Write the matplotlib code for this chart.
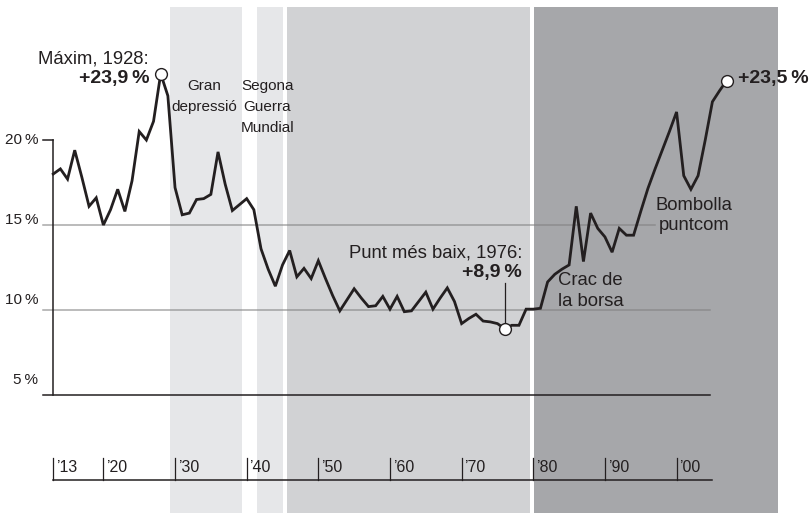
import matplotlib
matplotlib.use("Agg")
import matplotlib.pyplot as plt

# Part de la renda del 1% més ric (%), 1913-2007
years = list(range(1913, 2008))
top_share = [
    18.0, 18.3, 17.7, 19.4, 17.8, 16.1, 16.6, 15.0, 15.9, 17.1,   # 1913-1922
    15.8, 17.6, 20.5, 20.0, 21.1, 23.9, 22.6, 17.2, 15.6, 15.7,   # 1923-1932
    16.5, 16.55, 16.8, 19.3, 17.4, 15.85, 16.2, 16.55, 15.9, 13.6,  # 1933-1942
    12.4, 11.4, 12.65, 13.5, 11.95, 12.45, 11.85, 12.9, 11.85, 10.85,  # 1943-1952
    9.95, 10.6, 11.25, 10.7, 10.2, 10.25, 10.8, 10.05, 10.8, 9.9,  # 1953-1962
    9.95, 10.5, 11.05, 10.05, 10.7, 11.3, 10.5, 9.2, 9.5, 9.75,   # 1963-1972
    9.35, 9.3, 9.2, 8.9, 9.1, 9.1, 10.05, 10.05, 10.1, 11.65,     # 1973-1982
    12.1, 12.4, 12.65, 16.1, 12.85, 15.7, 14.8, 14.3, 13.4, 14.8,  # 1983-1992
    14.4, 14.4, 15.8, 17.15, 18.3, 19.4, 20.5, 21.65, 17.9, 17.1,  # 1993-2002
    17.9, 20.0, 22.25, 22.9, 23.5,                                 # 2003-2007
]

tick_years = [1913, 1920, 1930, 1940, 1950, 1960, 1970, 1980, 1990, 2000]
tick_labels = ["\u201913", "\u201920", "\u201930", "\u201940", "\u201950",
               "\u201960", "\u201970", "\u201980", "\u201990", "\u201900"]
y_levels = [20, 15, 10, 5]
y_labels = ["20\u2009%", "15\u2009%", "10\u2009%", "5\u2009%"]

# períodes ombrejats (inici, final)
era_spans = [(1929.3, 1939.4), (1941.4, 1945.0), (1945.6, 1979.6), (1980.1, 2014.1)]
era_colors = ["#e6e7e9", "#e6e7e9", "#d1d2d4", "#a6a7aa"]

INK = "#231f20"
GRID = (0.5, 0.5, 0.5, 0.68)
SANS = ["Liberation Sans", "DejaVu Sans"]

W, H = 810, 513


def px_x(px):
    # píxel horitzontal -> any
    return 1928 + (px - 160.7) / 7.165


def px_y(py):
    # píxel vertical -> percentatge
    return 20 - (py - 140) / 17.0


fig = plt.figure(figsize=(W / 100, H / 100), dpi=100)
ax = fig.add_axes([0, 0, 1, 1])
ax.set_xlim(px_x(0), px_x(W))
ax.set_ylim(px_y(H), px_y(0))
ax.axis("off")

# franges
for (x0, x1), c in zip(era_spans, era_colors):
    ax.fill_between([x0, x1], px_y(H), px_y(7), color=c, lw=0, zorder=0)

# línies de referència
ax.plot([px_x(43), px_x(710)], [10, 10], color=GRID, lw=1.1, zorder=1)
ax.plot([px_x(43), px_x(655)], [15, 15], color=GRID, lw=1.1, zorder=1)
ax.plot([px_x(43), px_x(710)], [5, 5], color=INK, lw=1.1, zorder=2)
ax.plot([years[0], years[0]], [5, 20], color=INK, lw=1.1, zorder=2)
ax.plot([px_x(43), years[0]], [20, 20], color=INK, lw=1.1, zorder=2)

label_base = [144, 224, 304, 384]
for lev, lab, b in zip(y_levels, y_labels, label_base):
    ax.text(px_x(38), px_y(b), lab, ha="right", va="baseline", fontsize=11,
            family=SANS, color=INK)

# eix temporal inferior
ax.plot([years[0], px_x(712)], [px_y(480), px_y(480)], color=INK, lw=1.1, zorder=2)
for ty, tl in zip(tick_years, tick_labels):
    ax.plot([ty, ty], [px_y(480), px_y(458)], color=INK, lw=0.9, zorder=2)
    ax.text(ty + 0.4, px_y(468), tl, ha="left", va="center", fontsize=11.5,
            family=SANS, color=INK)

# sèrie
ax.plot(years, top_share, color=INK, lw=2.0, solid_joinstyle="miter", zorder=3)

i_max = years.index(1928)
i_min = years.index(1976)
i_end = len(years) - 1
ax.plot([years[i_min], years[i_min]], [top_share[i_min], px_y(283)],
        color=INK, lw=0.9, zorder=3)
for i in (i_max, i_min, i_end):
    ax.plot(years[i], top_share[i], "o", ms=8.5, mfc="white", mec=INK, mew=1.0, zorder=4)

# anotacions
ax.text(px_x(149), px_y(63), "Máxim, 1928:", ha="right", va="baseline",
        fontsize=13.3, family=SANS, color=INK)
ax.text(px_x(149), px_y(83.5), "+23,9\u2009%", ha="right", va="baseline",
        fontsize=14, fontweight="bold", family=SANS, color=INK)

ax.text(px_x(204), px_y(90), "Gran", ha="center", va="baseline", fontsize=11,
        family=SANS, color=INK)
ax.text(px_x(204), px_y(111), "depressió", ha="center", va="baseline", fontsize=11,
        family=SANS, color=INK)
for lab, b in zip(["Segona", "Guerra", "Mundial"], [90, 111, 132]):
    ax.text(px_x(267.5), px_y(b), lab, ha="center", va="baseline", fontsize=11,
            family=SANS, color=INK)

ax.text(px_x(522), px_y(258), "Punt més baix, 1976:", ha="right", va="baseline",
        fontsize=13.3, family=SANS, color=INK)
ax.text(px_x(522), px_y(276.5), "+8,9\u2009%", ha="right", va="baseline",
        fontsize=14, fontweight="bold", family=SANS, color=INK)

ax.text(px_x(558), px_y(285), "Crac de", ha="left", va="baseline",
        fontsize=13.3, family=SANS, color=INK)
ax.text(px_x(558), px_y(305.5), "la borsa", ha="left", va="baseline",
        fontsize=13.3, family=SANS, color=INK)

ax.text(px_x(694), px_y(210.5), "Bombolla", ha="center", va="baseline",
        fontsize=13.3, family=SANS, color=INK)
ax.text(px_x(694), px_y(230.5), "puntcom", ha="center", va="baseline",
        fontsize=13.3, family=SANS, color=INK)

ax.text(px_x(738), px_y(83.5), "+23,5\u2009%", ha="left", va="baseline",
        fontsize=14, fontweight="bold", family=SANS, color=INK)

fig.savefig("out.png", dpi=100)
plt.close(fig)
